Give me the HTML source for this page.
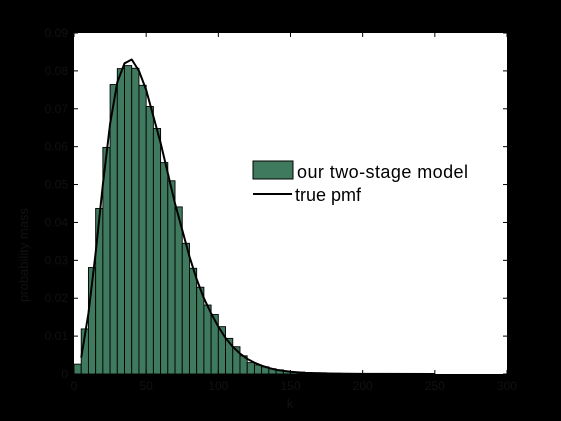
<!DOCTYPE html>
<html><head><meta charset="utf-8"><style>
html,body{margin:0;padding:0;background:#000;}
svg{display:block;font-family:"Liberation Sans",sans-serif;}
</style></head><body>
<svg id="chart" width="561" height="421" viewBox="0 0 561 421">
<rect x="0" y="0" width="561" height="421" fill="#000"/>
<rect x="74" y="33" width="433" height="341" fill="#fff"/>
<g id="bars"></g>
<g id="line"></g>
<g id="axes"></g>
<g>
<rect x="253" y="161" width="40" height="18" fill="#3f7a5f" stroke="#000" stroke-width="1"/>
<text x="297" y="178" font-size="18" textLength="171" fill="#000">our two-stage model</text>
<line x1="253" y1="194" x2="292" y2="194" stroke="#000" stroke-width="2"/>
<text x="295" y="201" font-size="18" fill="#000">true pmf</text>
</g>
<text x="290" y="408" font-size="13" fill="#111" text-anchor="middle">k</text>
<text x="28" y="255" font-size="13" fill="#111" text-anchor="middle" transform="rotate(-90 28 255)">probability mass</text>
</svg>
<script>
const binWidth = 5;
const binValues = [0.0026,0.0119,0.0281,0.0437,0.0598,0.0764,0.0806,0.0814,0.0807,0.0762,0.0706,0.0648,0.0558,0.0510,0.0441,0.0345,0.0279,0.0229,0.0182,0.0157,0.0125,0.0094,0.0072,0.0048,0.0030,0.0024,0.0019,0.0014,0.0011,0.0008,0.0005,0.0005,0.0004,0.0003,0.0003,0.0002,0.0002,0.0001,0.0001,0.0001,0.0001,0.0001,0.00005,0.00005,0.00005,0.00005,0.00003,0.00003,0.00003,0.00003];
const pmfX = [5,10,15,20,25,30,35,40,45,50,55,60,65,70,75,80,85,90,95,100,105,110,115,120,125,130,135,140,150,160,180,200,250];
const pmfY = [0.0043,0.016,0.032,0.050,0.066,0.077,0.082,0.083,0.080,0.075,0.068,0.061,0.053,0.045,0.038,0.031,0.025,0.020,0.016,0.0125,0.0095,0.0072,0.0054,0.0040,0.0030,0.0022,0.0016,0.0011,0.0006,0.0003,0.0001,0.00003,0];
const xTicks = [0,50,100,150,200,250,300];
const yTicks = [0,0.01,0.02,0.03,0.04,0.05,0.06,0.07,0.08,0.09];
const yTickLabels = ["0","0.01","0.02","0.03","0.04","0.05","0.06","0.07","0.08","0.09"];

const NS="http://www.w3.org/2000/svg";
const X0=74,X1=507,Y0=374,Y1=33;
function sx(v){return X0+(v-0)/(300-0)*(X1-X0);}
function sy(v){return Y0-(v-0)/(0.09-0)*(Y0-Y1);}
function mk(tag,attrs,parent){const e=document.createElementNS(NS,tag);for(const k in attrs)e.setAttribute(k,attrs[k]);parent.appendChild(e);return e;}

const bars=document.getElementById('bars');
binValues.forEach((v,i)=>{
  const x=sx(i*binWidth), w=sx((i+1)*binWidth)-x, y=sy(v);
  const r=mk('rect',{x:x,y:y,width:w,height:Y0-y,fill:'#3f7a5f',stroke:'#000','stroke-width':0.9},bars);
  
  
});
const lg=document.getElementById('line');
const pts=pmfX.map((x,i)=>sx(x)+','+sy(pmfY[i])).join(' ');
const pl=mk('polyline',{points:pts,fill:'none',stroke:'#000','stroke-width':2,'stroke-linejoin':'round'},lg);



const ax=document.getElementById('axes');
xTicks.forEach(t=>{
  const x=sx(t);
  const a=mk('line',{x1:x,y1:Y0,x2:x,y2:Y0-4,stroke:'#000'},ax);
  
  
  const b=mk('line',{x1:x,y1:Y1,x2:x,y2:Y1+4,stroke:'#000'},ax);
  
  
  const tx=mk('text',{x:x,y:Y0+16,'font-size':12,fill:'#111','text-anchor':'middle'},ax);
  tx.textContent=t;
  
  
});
yTicks.forEach((t,i)=>{
  const y=sy(t);
  const a=mk('line',{x1:X0,y1:y,x2:X0+4,y2:y,stroke:'#000'},ax);
  
  
  const b=mk('line',{x1:X1,y1:y,x2:X1-4,y2:y,stroke:'#000'},ax);
  
  
  const tx=mk('text',{x:X0-6,y:y+4,'font-size':12,fill:'#111','text-anchor':'end'},ax);
  tx.textContent=yTickLabels[i];
  
  
});
</script>
</body></html>
